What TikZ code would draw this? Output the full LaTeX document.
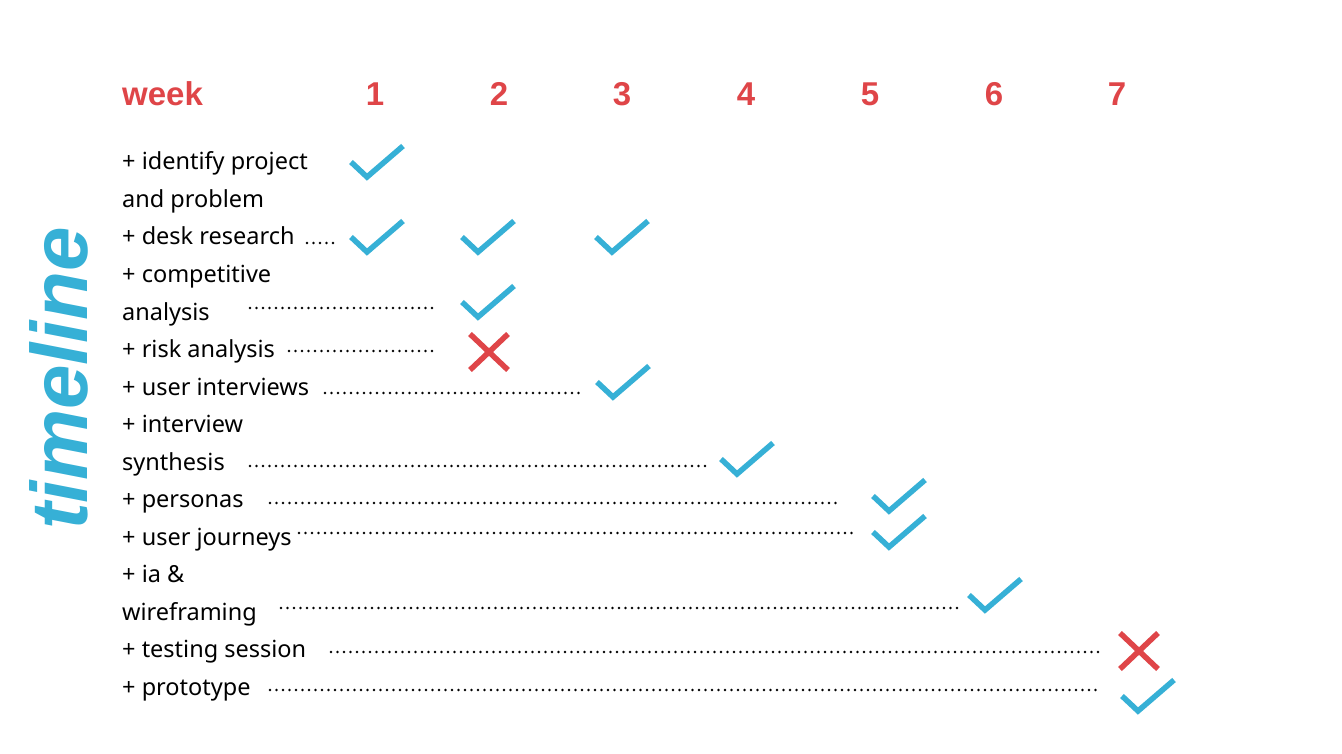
\documentclass[tikz,border=0pt]{standalone}
\usepackage{fontspec}
\setmainfont{Noto Sans}
\newfontfamily\titlefont{Liberation Sans}
\definecolor{tred}{RGB}{223,69,72}
\definecolor{tblue}{RGB}{54,176,214}
\tikzset{
  item/.style={anchor=base west, inner sep=0pt, font=\fontsize{23.5}{23.5}\selectfont},
  head/.style={anchor=base, inner sep=0pt, text=tred, font=\titlefont\fontsize{33}{33}\selectfont\bfseries},
  dots/.style={line width=2.7pt, line cap=round, dash pattern=on 0pt off 6.5pt},
  chk/.style={draw=tblue, line width=5.5pt},
  crs/.style={draw=tred, line width=5.5pt},
  check/.pic={\draw[chk] (-16,-15) -- (0,0) -- (36,-31);},
  cross/.pic={\draw[crs] (-19,-18) -- (19,18) (-19,18) -- (19,-18);}
}
\begin{document}
\begin{tikzpicture}[x=1pt,y=-1pt]
\useasboundingbox (0,0) rectangle (1342,754);
\fill[white] (0,0) rectangle (1342,754);
% title
\node[rotate=90, anchor=base west, inner sep=0pt, text=tblue, font=\titlefont\fontsize{80}{80}\selectfont\bfseries\itshape] (title) at (87,530) {timeline};
% header
\node[head, anchor=base west] (week) at (122,106) {week};
\node[head] (w1) at (375,106) {1};
\node[head] (w2) at (499,106) {2};
\node[head] (w3) at (622,106) {3};
\node[head] (w4) at (746,106) {4};
\node[head] (w5) at (870,106) {5};
\node[head] (w6) at (994,106) {6};
\node[head] (w7) at (1117,106) {7};
% items
\node[item] (r1)  at (122,170)   {+ identify project};
\node[item] (r2)  at (122,207.5) {and problem};
\node[item] (r3)  at (122,245)   {+ desk research};
\node[item] (r4)  at (122,282.5) {+ competitive};
\node[item] (r5)  at (122,320)   {analysis};
\node[item] (r6)  at (122,357.5) {+ risk analysis};
\node[item] (r7)  at (122,395)   {+ user interviews};
\node[item] (r8)  at (122,432.5) {+ interview};
\node[item] (r9)  at (122,470)   {synthesis};
\node[item] (r10) at (122,507.5) {+ personas};
\node[item] (r11) at (122,545)   {+ user journeys};
\node[item] (r12) at (122,582.5) {+ ia \&};
\node[item] (r13) at (122,620)   {wireframing};
\node[item] (r14) at (122,657.5) {+ testing session};
\node[item] (r15) at (122,695)   {+ prototype};
% dotted leaders
\draw[dots] (307,243) -- (336,243);
\draw[dots] (250,308) -- (435,308);
\draw[dots] (289,351) -- (435,351);
\draw[dots] (325,393) -- (582,393);
\draw[dots] (250,466) -- (709,466);
\draw[dots] (270,503) -- (840,503);
\draw[dots] (299,533) -- (856,533);
\draw[dots] (281,608) -- (962,608);
\draw[dots] (331,652) -- (1102,652);
\draw[dots] (270,690) -- (1101,690);
% marks
\pic at (367,177) {check};
\pic at (367,252) {check};
\pic at (478,252) {check};
\pic at (612,252) {check};
\pic at (478,317) {check};
\pic at (489,352) {cross};
\pic at (613,397) {check};
\pic at (737,474) {check};
\pic at (889,511) {check};
\pic at (889,547) {check};
\pic at (985,610) {check};
\pic at (1139,651) {cross};
\pic at (1138,711) {check};
\end{tikzpicture}
\end{document}
